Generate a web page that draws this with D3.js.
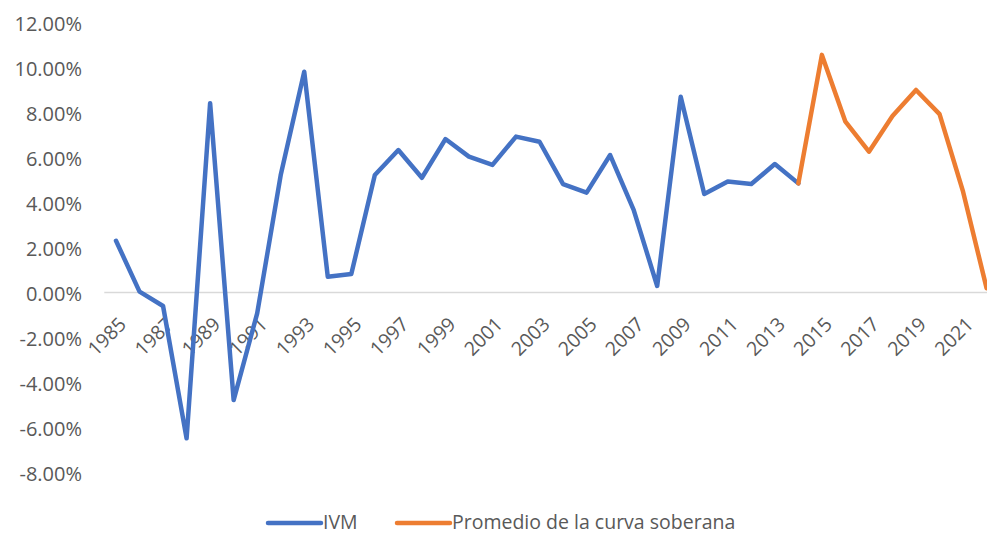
<!DOCTYPE html>
<html><head><meta charset="utf-8">
<script src="https://cdn.jsdelivr.net/npm/d3@7"></script>
<style>body{margin:0;background:#fff}svg{display:block}text{font-family:"Open Sans",sans-serif;fill:#595959}</style>
</head><body><svg id="c" width="987" height="535"></svg>
<script>
const years = d3.range(1985, 2023).map(String);
const ivmYears = d3.range(1985, 2015).map(String);
const ivm = [2.30,0.04,-0.60,-6.48,8.41,-4.78,-0.93,5.22,9.81,0.70,0.82,5.22,6.33,5.10,6.82,6.04,5.67,6.93,6.70,4.82,4.44,6.11,3.67,0.29,8.70,4.38,4.93,4.82,5.71,4.85];
const sovYears = d3.range(2014, 2023).map(String);
const sov = [4.85,10.56,7.59,6.26,7.84,9.00,7.93,4.48,0.19];
const yTicks = [-8,-6,-4,-2,0,2,4,6,8,10,12];
const xLabels = years.filter((d,i)=>i%2===0);
const seriesNames = ["IVM","Promedio de la curva soberana"];
const colors = ["#4472C4","#ED7D31"];

const svg = d3.select("#c");
const x = d3.scalePoint().domain(years).range([116,986.6]);
const y = d3.scaleLinear().domain([-8,12]).range([472.5,22.5]);

const ya = svg.append("g").attr("transform","translate(82,1.5)")
  .call(d3.axisLeft(y).tickValues(yTicks).tickSize(0).tickPadding(0).tickFormat(d=>d.toFixed(2)+"%"));
ya.select(".domain").remove();
ya.selectAll("text").style("font-size","20px").attr("fill","#595959").attr("font-family",null);

svg.append("line").attr("x1",104.3).attr("x2",998).attr("y1",y(0)).attr("y2",y(0))
  .attr("stroke","#d9d9d9").attr("stroke-width",1.5);

const xa = svg.append("g").attr("transform",`translate(0,${y(0)})`)
  .call(d3.axisBottom(x).tickValues(xLabels).tickSize(0).tickPadding(0));
xa.select(".domain").remove();
xa.selectAll("text").style("font-size","19.5px").attr("fill","#595959").attr("font-family",null)
  .attr("text-anchor","end").attr("dy",null).attr("y",null)
  .attr("transform","translate(11,33) rotate(-45)");

const line = d3.line().x(d=>x(d[0])).y(d=>y(d[1]));
svg.append("path").datum(ivmYears.map((d,i)=>[d,ivm[i]])).attr("d",line)
  .attr("fill","none").attr("stroke",colors[0]).attr("stroke-width",4.5).attr("stroke-linejoin","round").attr("stroke-linecap","round");
svg.append("path").datum(sovYears.map((d,i)=>[d,sov[i]])).attr("d",line)
  .attr("fill","none").attr("stroke",colors[1]).attr("stroke-width",4.5).attr("stroke-linejoin","round").attr("stroke-linecap","round");

const lg = [{x:268,name:seriesNames[0],c:colors[0]},{x:397,name:seriesNames[1],c:colors[1]}];
lg.forEach(l=>{
  svg.append("line").attr("x1",l.x).attr("x2",l.x+53).attr("y1",523).attr("y2",523)
    .attr("stroke",l.c).attr("stroke-width",4.5).attr("stroke-linecap","round");
  svg.append("text").attr("x",l.x+55).attr("y",529).style("font-size","19.5px").text(l.name);
});
</script></body></html>
